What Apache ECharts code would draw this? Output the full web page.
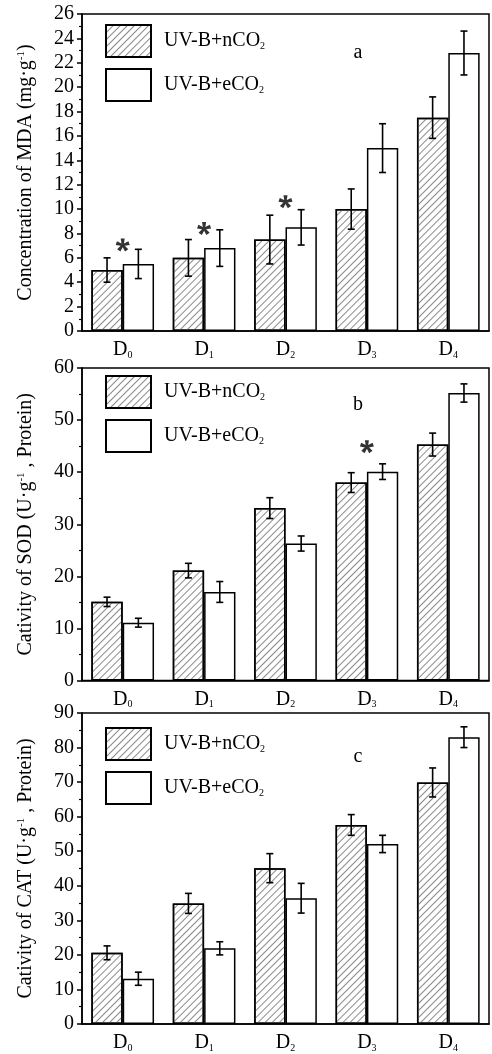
<!DOCTYPE html>
<html>
<head>
<meta charset="UTF-8">
<title>MDA SOD CAT</title>
<script src="https://cdn.jsdelivr.net/npm/echarts@6/dist/echarts.min.js"></script>
<style>
  *{ padding:0; margin:0; }
  #main{ width:492px; height:1054px; background:#fff; }
</style>
</head>
<body>
<div id="main"></div>
<script>
// categories and series names
var categories = ['D0', 'D1', 'D2', 'D3', 'D4'];
var seriesNames = ['UV-B+nCO2', 'UV-B+eCO2'];

// panel a: MDA
var mdaN = [5.0, 6.0, 7.5, 10.0, 17.5];
var mdaE = [5.5, 6.8, 8.5, 15.0, 22.8];
var mdaNErr = [1.0, 1.5, 2.0, 1.65, 1.7];
var mdaEErr = [1.2, 1.5, 1.45, 2.0, 1.8];
var mdaStars = [[0, 7.05], [1, 8.4], [2, 10.6]];

// panel b: SOD
var sodN = [15.1, 21.1, 33.1, 38.0, 45.3];
var sodE = [11.1, 17.0, 26.3, 40.1, 55.2];
var sodNErr = [0.9, 1.4, 2.0, 1.9, 2.2];
var sodEErr = [0.85, 2.0, 1.45, 1.5, 1.75];
var sodStars = [[3, 44.9]];

// panel c: CAT
var catN = [20.6, 34.9, 45.1, 57.6, 69.9];
var catE = [13.1, 21.9, 36.4, 52.1, 83.0];
var catNErr = [2.0, 2.9, 4.2, 3.0, 4.2];
var catEErr = [1.9, 1.9, 4.3, 2.5, 3.0];
var catStars = [];

// y axes
var yMax = [26, 60, 90];
var yStep = [2, 10, 10];
var yNames = [
    'Concentration of MDA (mg·g{sup|-1})',
    'Cativity of SOD (U·g{sup|-1} , Protein)',
    'Cativity of CAT (U·g{sup|-1} , Protein)'
];
var panelLetters = ['a', 'b', 'c'];

var FONT = 'Liberation Serif';
var BAR_FRAC = 0.385;
var grids = [
    {left: 82, top: 14, width: 407, height: 317},
    {left: 82, top: 368, width: 407, height: 312.5},
    {left: 82, top: 713, width: 407, height: 311}
];
var legendTops = [24, 375, 727];
var letterPos = [[358, 53], [358, 405], [358, 757]];

// five armed asterisk path
function starPath() {
    var d = '';
    for (var k = 0; k < 5; k++) {
        var a = (-90 + 72 * k) * Math.PI / 180;
        var ux = Math.cos(a), uy = Math.sin(a);
        var px = -uy, py = ux;
        var pts = [
            [px * 1.5, py * 1.5],
            [ux * 10 + px * 3, uy * 10 + py * 3],
            [ux * 10 - px * 3, uy * 10 - py * 3],
            [-px * 1.5, -py * 1.5]
        ];
        d += 'M' + pts.map(function (p) { return p[0].toFixed(2) + ' ' + p[1].toFixed(2); }).join('L') + 'Z';
    }
    return 'path://' + d;
}

var hatch = {
    symbol: 'rect',
    symbolSize: 1,
    dashArrayX: [1, 0],
    dashArrayY: [1, 3.2],
    rotation: -Math.PI / 4,
    color: '#8a8a8a'
};

function errRender(sign) {
    return function (params, api) {
        var x = api.value(0);
        var band = api.size([1, 0])[0];
        var dx = sign * band * BAR_FRAC / 2;
        var top = api.coord([x, api.value(2)]);
        var bot = api.coord([x, api.value(1)]);
        var cx = top[0] + dx, w = 3.5;
        var st = {stroke: '#000', lineWidth: 1.6};
        return {
            type: 'group',
            children: [
                {type: 'line', shape: {x1: cx, y1: top[1], x2: cx, y2: bot[1]}, style: st},
                {type: 'line', shape: {x1: cx - w, y1: top[1], x2: cx + w, y2: top[1]}, style: st},
                {type: 'line', shape: {x1: cx - w, y1: bot[1], x2: cx + w, y2: bot[1]}, style: st}
            ]
        };
    };
}

function errData(vals, errs) {
    return vals.map(function (v, i) { return [i, v - errs[i], v + errs[i]]; });
}

var panels = [
    {n: mdaN, e: mdaE, nErr: mdaNErr, eErr: mdaEErr, stars: mdaStars},
    {n: sodN, e: sodE, nErr: sodNErr, eErr: sodEErr, stars: sodStars},
    {n: catN, e: catE, nErr: catNErr, eErr: catEErr, stars: catStars}
];

var xAxes = [], yAxes = [], series = [], legends = [], graphics = [];

panels.forEach(function (p, i) {
    xAxes.push({
        type: 'category',
        gridIndex: i,
        data: categories,
        axisLine: {lineStyle: {color: '#000', width: 1.5}},
        axisTick: {alignWithLabel: true, length: 5, lineStyle: {color: '#000', width: 1.5}},
        axisLabel: {
            margin: 9,
            color: '#000',
            fontFamily: FONT,
            fontSize: 20,
            lineHeight: 20,
            formatter: function (v) { return 'D{s|' + v.slice(1) + '}'; },
            rich: {s: {fontFamily: FONT, fontSize: 10, lineHeight: 10, verticalAlign: 'bottom', color: '#000'}}
        }
    });
    yAxes.push({
        type: 'value',
        gridIndex: i,
        min: 0,
        max: yMax[i],
        interval: yStep[i],
        name: yNames[i],
        nameLocation: 'middle',
        nameGap: 46,
        nameTextStyle: {
            color: '#000',
            fontFamily: FONT,
            fontSize: 20,
            lineHeight: 20,
            rich: {sup: {fontFamily: FONT, fontSize: 11, lineHeight: 11, verticalAlign: 'top', color: '#000'}}
        },
        splitLine: {show: false},
        axisLine: {show: true, lineStyle: {color: '#000', width: 1.5}},
        axisTick: {show: true, length: 5, lineStyle: {color: '#000', width: 1.5}},
        minorTick: {show: true, splitNumber: 2, length: 3, lineStyle: {color: '#000', width: 1.2}},
        axisLabel: {margin: 8, color: '#000', fontFamily: FONT, fontSize: 20}
    });

    var base = {
        type: 'bar',
        xAxisIndex: i,
        yAxisIndex: i,
        barWidth: (BAR_FRAC * 100) + '%',
        barGap: '0%',
        silent: true
    };
    series.push(Object.assign({}, base, {
        name: seriesNames[0],
        data: p.n,
        itemStyle: {color: '#fff', borderColor: '#000', borderWidth: 1.5, decal: hatch}
    }));
    series.push(Object.assign({}, base, {
        name: seriesNames[1],
        data: p.e,
        itemStyle: {color: '#fff', borderColor: '#000', borderWidth: 1.5}
    }));
    series.push({
        type: 'custom', xAxisIndex: i, yAxisIndex: i, z: 5, silent: true,
        renderItem: errRender(-1), data: errData(p.n, p.nErr), encode: {x: 0, y: [1, 2]}
    });
    series.push({
        type: 'custom', xAxisIndex: i, yAxisIndex: i, z: 5, silent: true,
        renderItem: errRender(1), data: errData(p.e, p.eErr), encode: {x: 0, y: [1, 2]}
    });
    if (p.stars.length) {
        series.push({
            type: 'scatter', xAxisIndex: i, yAxisIndex: i, z: 6, silent: true,
            symbol: starPath(), symbolSize: [14, 13],
            itemStyle: {color: '#000'},
            data: p.stars
        });
    }

    legends.push({
        data: seriesNames,
        orient: 'vertical',
        left: 105,
        top: legendTops[i],
        padding: 0,
        itemWidth: 45,
        itemHeight: 32,
        itemGap: 10,
        selectedMode: false,
        icon: 'rect',
        formatter: function (name) { return name.slice(0, -1) + '{sub|2}'; },
        textStyle: {
            color: '#000',
            fontFamily: FONT,
            fontSize: 20,
            lineHeight: 20,
            padding: [0, 0, 0, 8],
            rich: {sub: {fontFamily: FONT, fontSize: 10, lineHeight: 10, verticalAlign: 'bottom', color: '#000'}}
        }
    });

    graphics.push({
        type: 'text',
        x: letterPos[i][0],
        y: letterPos[i][1],
        style: {text: panelLetters[i], font: '20px "' + FONT + '"', fill: '#000', align: 'center', verticalAlign: 'middle'}
    });
});

var myChart = echarts.init(document.getElementById('main'));
myChart.setOption({
    animation: false,
    backgroundColor: '#fff',
    grid: grids.map(function (g) {
        return Object.assign({show: true, borderColor: '#000', borderWidth: 1.5, containLabel: false}, g);
    }),
    xAxis: xAxes,
    yAxis: yAxes,
    legend: legends,
    graphic: graphics,
    series: series
});
</script>
</body>
</html>
